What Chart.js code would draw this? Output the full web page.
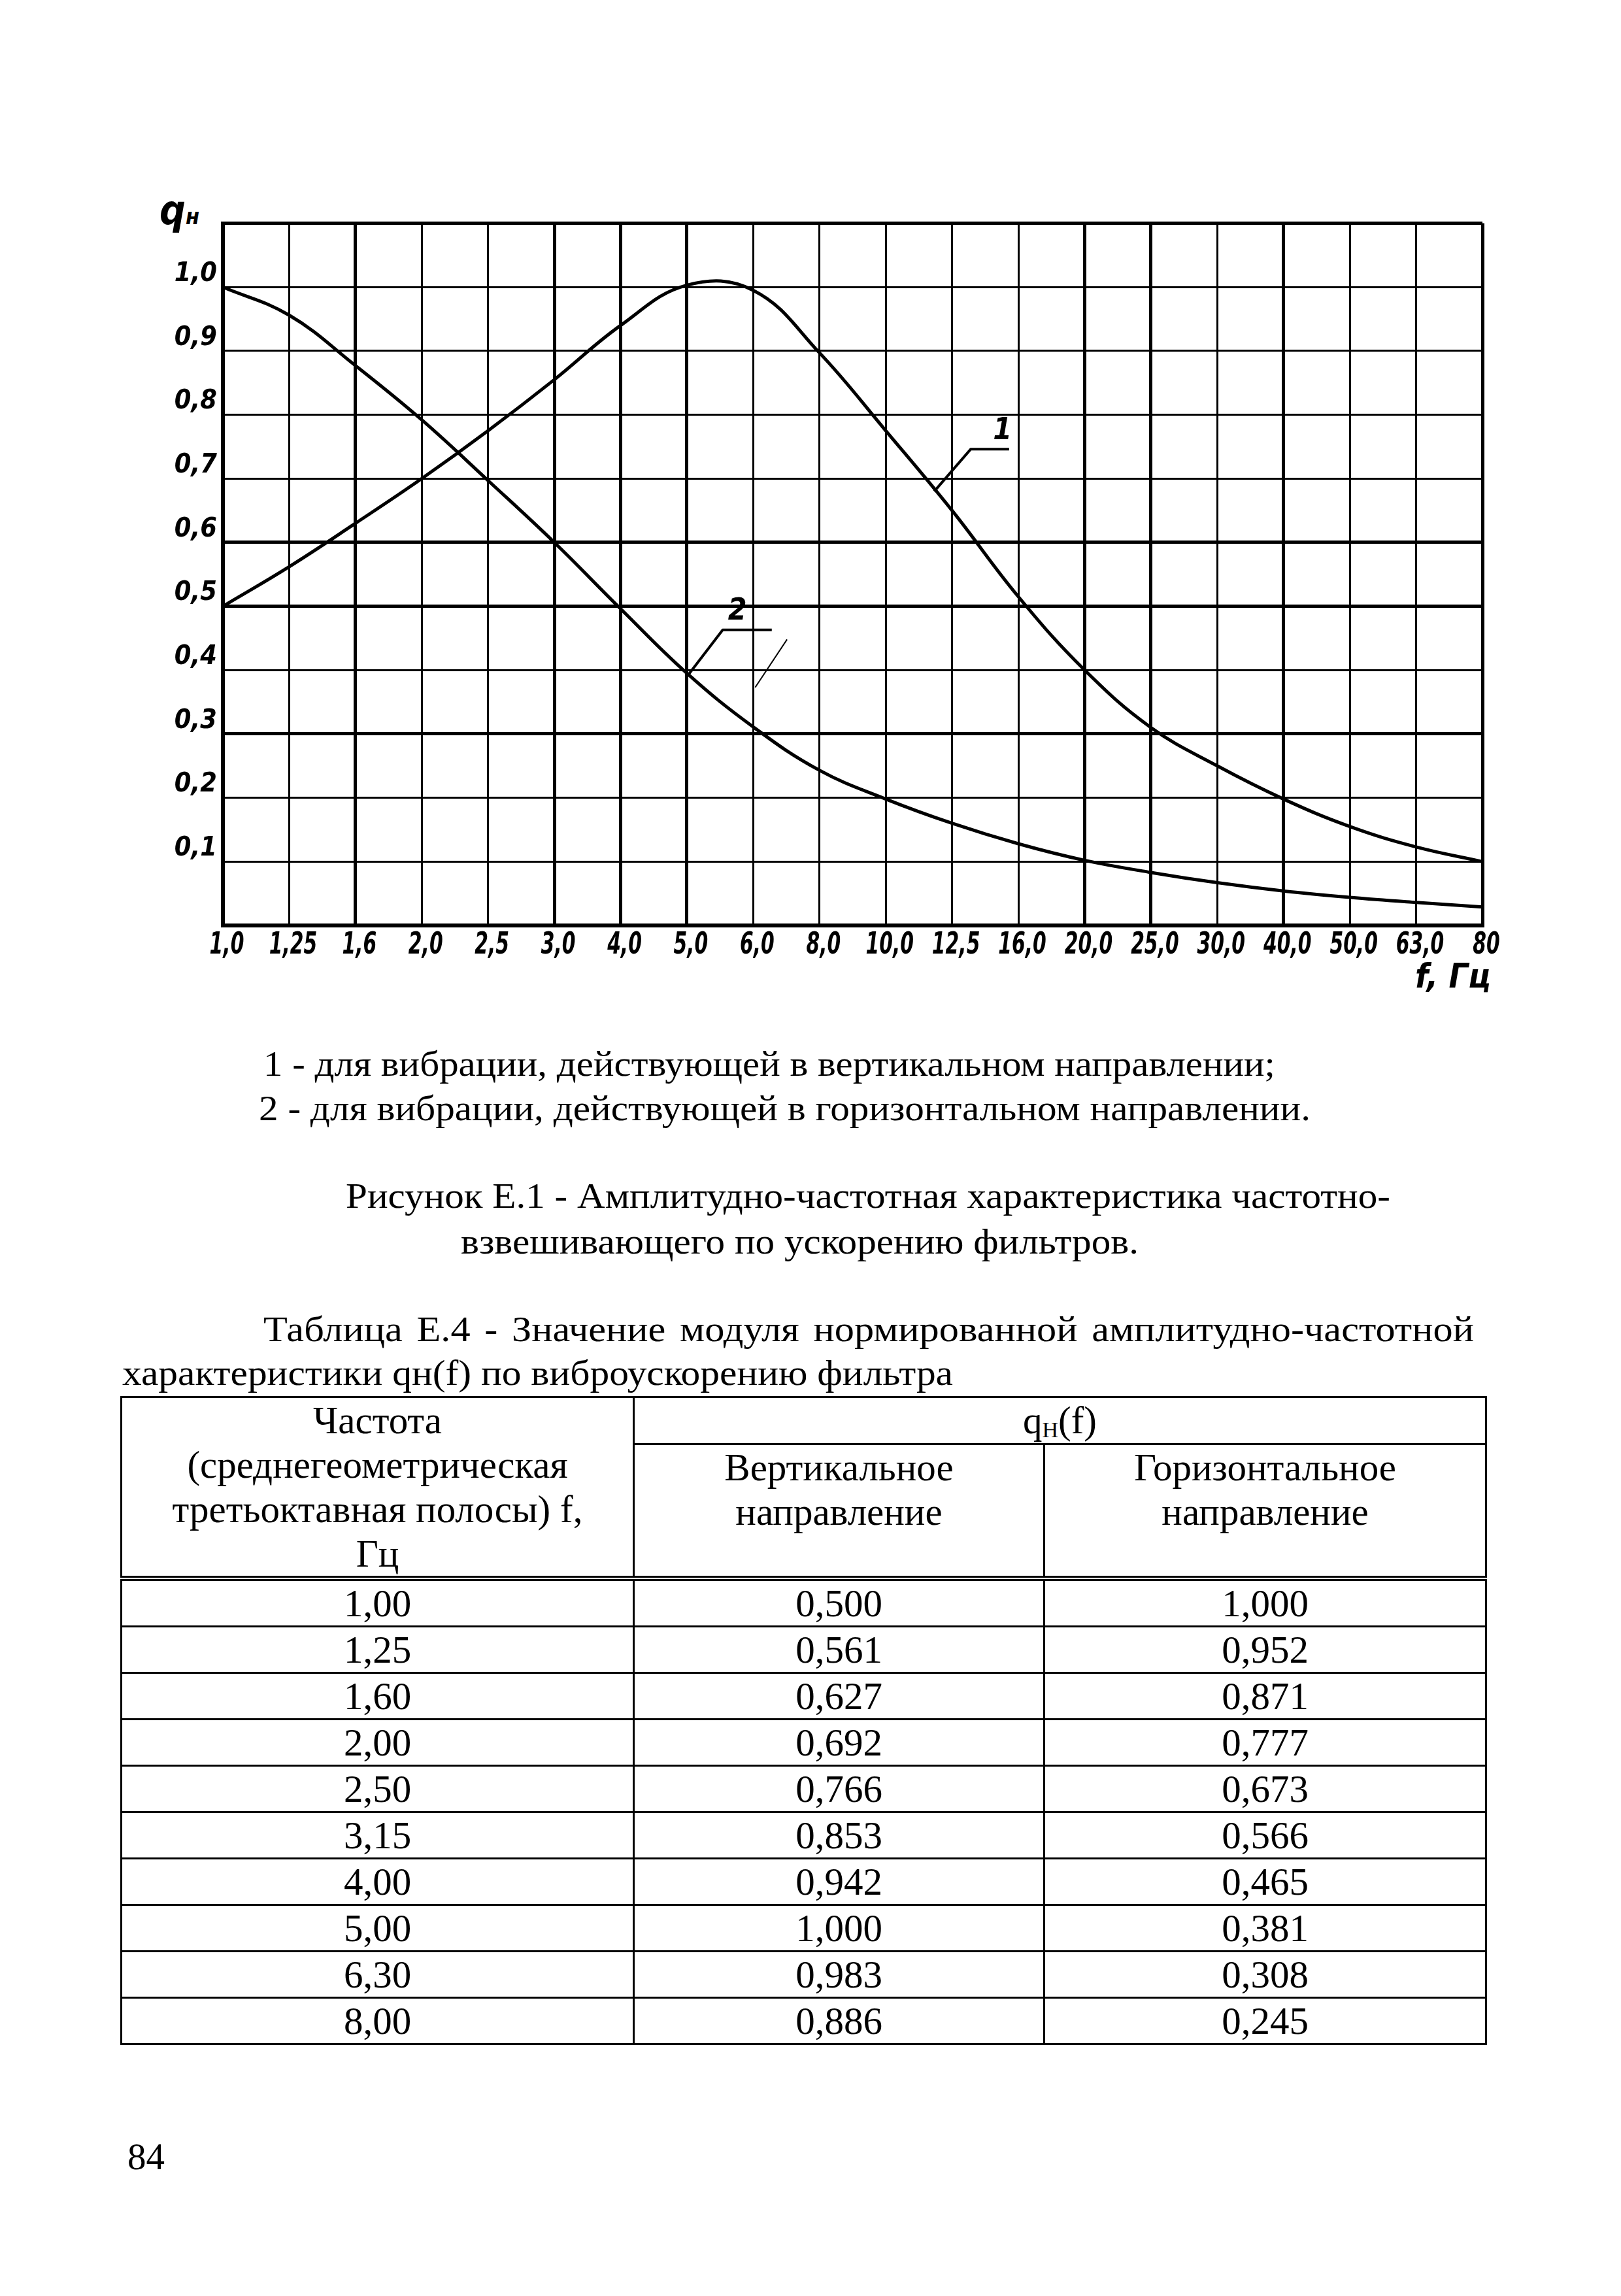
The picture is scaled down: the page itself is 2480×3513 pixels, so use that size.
<!DOCTYPE html>
<html lang="ru">
<head>
<meta charset="utf-8">
<title>Рисунок Е.1</title>
<script src="https://cdn.jsdelivr.net/npm/chart.js@4.4.1/dist/chart.umd.min.js"></script>
<style>
  html, body { margin: 0; padding: 0; background: #fff; }
  #page { position: relative; width: 2480px; height: 3513px; overflow: hidden; font-family: "Liberation Serif", "Times New Roman", serif; color: #000; }
  .abs { position: absolute; white-space: nowrap; font-size: 55px; line-height: 55px; }
  .fit { display: inline-block; transform-origin: 0 0; }
  .hand { font-family: "DejaVu Sans Condensed", "DejaVu Sans", sans-serif; font-style: italic; font-weight: bold; }
  #chart-box { position: absolute; left: 261px; top: 308px; width: 2067px; height: 1178px; }
  #tbl { position: absolute; left: 184px; top: 2136px; width: 2088px; border-collapse: collapse; table-layout: fixed; font-size: 59px; }
  #tbl td { border: 3px solid #000; padding: 0; text-align: center; line-height: 68px; }
  #tbl thead td { vertical-align: top; }
  #tbl thead tr.last td, #tbl thead td.tall { border-bottom: 8px double #000; }
  #tbl tbody td { height: 68px; vertical-align: middle; }
  sub { font-size: 34px; line-height: 0; vertical-align: -6px; }
</style>
</head>
<body>
<div id="page">
  <div class="abs hand" style="left:244px; top:294px; font-size:62px;">q<span style="font-size:34px;">н</span></div>
  <div id="chart-box"><canvas id="weight-chart" width="2067" height="1178"></canvas></div>
  <div class="abs hand" style="left:2165px; top:1466px; font-size:52px;">f, Гц</div>

  <div class="abs" style="left:403px; top:1600px;"><span class="fit" data-w="1548">1 - для вибрации, действующей в вертикальном направлении;</span></div>
  <div class="abs" style="left:396px; top:1668px;"><span class="fit" data-w="1609">2 - для вибрации, действующей в горизонтальном направлении.</span></div>

  <div class="abs" style="left:529px; top:1802px;"><span class="fit" data-w="1598">Рисунок Е.1 - Амплитудно-частотная характеристика частотно-</span></div>
  <div class="abs" style="left:705px; top:1872px;"><span class="fit" data-w="1037">взвешивающего по ускорению фильтров.</span></div>

  <div class="abs" style="left:403px; top:2006px; word-spacing:6px;"><span class="fit" data-w="1852">Таблица Е.4 - Значение модуля нормированной амплитудно-частотной</span></div>
  <div class="abs" style="left:187px; top:2073px;"><span class="fit" data-w="1271">характеристики qн(f) по виброускорению фильтра</span></div>

  <table id="tbl">
    <colgroup><col style="width:784px"><col style="width:628px"><col style="width:676px"></colgroup>
    <thead>
      <tr style="height:70px;">
        <td rowspan="2" class="tall" style="height:272px;">Частота<br>(среднегеометрическая<br>третьоктавная полосы) f,<br>Гц</td>
        <td colspan="2">q<sub>Н</sub>(f)</td>
      </tr>
      <tr class="last" style="height:202px;">
        <td>Вертикальное<br>направление</td>
        <td>Горизонтальное<br>направление</td>
      </tr>
    </thead>
    <tbody id="tbl-body"></tbody>
  </table>

  <div class="abs" style="left:195px; top:3272px; font-size:57px;">84</div>
</div>

<script>
// Frequency bands (third-octave), as written under the chart
const freqLabels = ['1,0', '1,25', '1,6', '2,0', '2,5', '3,0', '4,0', '5,0', '6,0', '8,0',
                    '10,0', '12,5', '16,0', '20,0', '25,0', '30,0', '40,0', '50,0', '63,0', '80'];

// Curve 1 - vertical direction at each grid line
const verticalCurve = [0.500, 0.562, 0.630, 0.700, 0.775, 0.855, 0.940, 1.003, 0.995, 0.897,
                       0.775, 0.650, 0.515, 0.400, 0.310, 0.250, 0.198, 0.155, 0.123, 0.100];

// Curve 2 - horizontal direction
const horizontalCurve = [1.000, 0.956, 0.877, 0.792, 0.697, 0.600, 0.496, 0.395, 0.311, 0.243,
                         0.198, 0.160, 0.128, 0.102, 0.083, 0.067, 0.054, 0.044, 0.036, 0.029];

// Y tick values that carry a label
const yLabelValues = [0.1, 0.2, 0.3, 0.4, 0.5, 0.6, 0.7, 0.8, 0.9, 1.0];

// Leader lines for the curve numbers (category index, value)
const leader1 = [[10.73, 0.680], [11.28, 0.746], [11.86, 0.746]];
const leader2 = [[7.03, 0.394], [7.54, 0.463], [8.28, 0.463]];
const strayMark = [[8.03, 0.373], [8.51, 0.448]];
const curveTags = [{ text: '1', x: 11.76, y: 0.750 }, { text: '2', x: 7.76, y: 0.468 }];

// Table E.4 values
const tblFreq = ['1,00', '1,25', '1,60', '2,00', '2,50', '3,15', '4,00', '5,00', '6,30', '8,00'];
const tblVert = ['0,500', '0,561', '0,627', '0,692', '0,766', '0,853', '0,942', '1,000', '0,983', '0,886'];
const tblHor = ['1,000', '0,952', '0,871', '0,777', '0,673', '0,566', '0,465', '0,381', '0,308', '0,245'];

// heavier grid lines, like on the drawing
const thickX = [0, 2, 5, 6, 7, 13, 14, 16, 19];
const thickY = [3, 5, 6, 11];

document.addEventListener('DOMContentLoaded', () => {
    // fill the table
    const tbody = document.getElementById('tbl-body');
    tblFreq.forEach((f, i) => {
        const tr = document.createElement('tr');
        tr.innerHTML = `<td>${f}</td><td>${tblVert[i]}</td><td>${tblHor[i]}</td>`;
        tbody.appendChild(tr);
    });

    // squeeze text lines to the widths on the page
    document.querySelectorAll('.fit').forEach(el => {
        const target = parseFloat(el.dataset.w);
        const natural = el.getBoundingClientRect().width;
        if (natural > 0) el.style.transform = `scaleX(${target / natural})`;
    });

    const handFamily = '"DejaVu Sans Condensed", "DejaVu Sans", sans-serif';
    const handFont = { family: handFamily, style: 'italic', weight: 'bold', size: 41 };

    // curve numbers with their leader lines
    const leaderPlugin = {
        id: 'leaders',
        afterDatasetsDraw(chart) {
            const { ctx, scales: { x, y } } = chart;
            const path = (pts) => {
                ctx.beginPath();
                pts.forEach(([px, py], i) => {
                    const X = x.getPixelForValue(px), Y = y.getPixelForValue(py);
                    if (i === 0) ctx.moveTo(X, Y); else ctx.lineTo(X, Y);
                });
                ctx.stroke();
            };
            ctx.save();
            ctx.strokeStyle = '#000';
            ctx.lineJoin = 'round';
            ctx.lineWidth = 4;
            path(leader1);
            path(leader2);
            ctx.lineWidth = 2;
            path(strayMark);
            ctx.fillStyle = '#000';
            ctx.font = 'italic bold 46px ' + handFamily;
            ctx.textAlign = 'center';
            ctx.textBaseline = 'bottom';
            curveTags.forEach(t => ctx.fillText(t.text, x.getPixelForValue(t.x), y.getPixelForValue(t.y)));
            ctx.restore();
        }
    };

    // narrow hand-lettered frequency labels under each grid line
    const freqLabelPlugin = {
        id: 'freqLabels',
        afterDraw(chart) {
            const { ctx, scales: { x } } = chart;
            ctx.save();
            ctx.fillStyle = '#000';
            ctx.font = 'italic bold 46px ' + handFamily;
            ctx.textAlign = 'center';
            ctx.textBaseline = 'top';
            x.ticks.forEach((t, i) => {
                ctx.save();
                ctx.translate(x.getPixelForTick(i) + 6, x.top + 8);
                ctx.scale(0.72, 1);
                ctx.fillText(x.getLabelForValue(t.value), 0, 0);
                ctx.restore();
            });
            ctx.restore();
        }
    };

    new Chart(document.getElementById('weight-chart'), {
        type: 'line',
        data: {
            labels: freqLabels,
            datasets: [
                { label: '1', data: verticalCurve, borderColor: '#000', borderWidth: 5, pointRadius: 0, tension: 0.4, fill: false },
                { label: '2', data: horizontalCurve, borderColor: '#000', borderWidth: 5, pointRadius: 0, tension: 0.4, fill: false }
            ]
        },
        options: {
            responsive: false,
            animation: false,
            devicePixelRatio: 1,
            layout: { padding: { top: 30, right: 60, left: 0, bottom: 0 } },
            plugins: { legend: { display: false }, tooltip: { enabled: false } },
            scales: {
                x: {
                    type: 'category',
                    offset: false,
                    afterFit: (scale) => { scale.height = 70; },
                    grid: {
                        color: '#000',
                        drawTicks: false,
                        lineWidth: (c) => thickX.includes(c.index) ? 5 : 3
                    },
                    border: { display: true, color: '#000', width: 6 },
                    ticks: { display: false, autoSkip: false }
                },
                y: {
                    min: 0,
                    max: 1.1,
                    afterFit: (scale) => { scale.width = 80; },
                    grid: {
                        color: '#000',
                        drawTicks: false,
                        lineWidth: (c) => thickY.includes(Math.round(c.tick.value * 10)) ? 5 : 3
                    },
                    border: { display: true, color: '#000', width: 6 },
                    ticks: {
                        stepSize: 0.1,
                        color: '#000',
                        font: handFont,
                        padding: 9,
                        labelOffset: -20,
                        callback: (v) => {
                            const r = Math.round(v * 10) / 10;
                            return yLabelValues.includes(r) ? r.toFixed(1).replace('.', ',') : '';
                        }
                    }
                }
            }
        },
        plugins: [leaderPlugin, freqLabelPlugin]
    });
});
</script>
</body>
</html>
